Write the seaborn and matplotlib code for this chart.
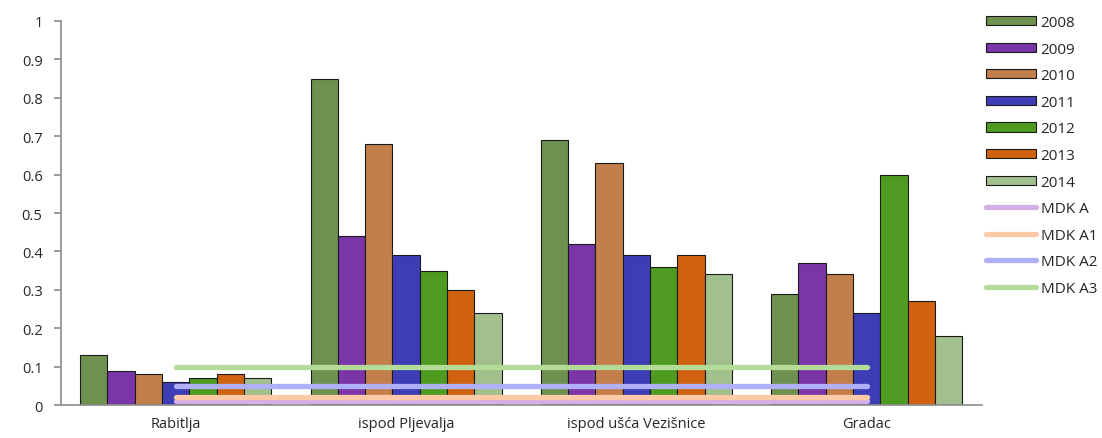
import numpy as np
import pandas as pd
import matplotlib
matplotlib.use("Agg")
import matplotlib.pyplot as plt
import seaborn as sns
from matplotlib.ticker import FixedLocator

# -------------------------------
# Data
# -------------------------------
sites = ["Rabitlja", "ispod Pljevalja", "ispod ušća Vezišnice", "Gradac"]
years = ["2008", "2009", "2010", "2011", "2012", "2013", "2014"]

v2008 = [0.13, 0.85, 0.69, 0.29]
v2009 = [0.09, 0.44, 0.42, 0.37]
v2010 = [0.08, 0.68, 0.63, 0.34]
v2011 = [0.06, 0.39, 0.39, 0.24]
v2012 = [0.07, 0.35, 0.36, 0.60]
v2013 = [0.08, 0.30, 0.39, 0.27]
v2014 = [0.07, 0.24, 0.34, 0.18]

mdk_names = ["MDK A", "MDK A1", "MDK A2", "MDK A3"]
mdk_values = [0.01, 0.02, 0.05, 0.10]

y_ticks = [0, 0.1, 0.2, 0.3, 0.4, 0.5, 0.6, 0.7, 0.8, 0.9, 1]
y_tick_labels = ["0", "0.1", "0.2", "0.3", "0.4", "0.5", "0.6", "0.7", "0.8", "0.9", "1"]

year_colors = ["#6f9150", "#7a35a6", "#c27f4c", "#3d3db5",
               "#4f9a20", "#d0620f", "#a2bf8e"]
mdk_colors = ["#d4aee6", "#fccaa6", "#b0b0f8", "#b2dc98"]

# -------------------------------
# Long-form tables
# -------------------------------
series = [v2008, v2009, v2010, v2011, v2012, v2013, v2014]
bars = pd.DataFrame({
    "site": np.tile(sites, len(years)),
    "year": np.repeat(years, len(sites)),
    "value": np.concatenate(series),
})

lines = pd.DataFrame({
    "pos": np.tile(np.arange(len(sites)), len(mdk_names)),
    "mdk": np.repeat(mdk_names, len(sites)),
    "value": np.repeat(mdk_values, len(sites)),
})

# -------------------------------
# Plot
# -------------------------------
sns.set_style("white")
plt.rcParams["font.family"] = ["Open Sans", "DejaVu Sans"]

fig = plt.figure(figsize=(11.02, 4.39), dpi=100)
ax = fig.add_axes([0.055, 0.075, 0.836, 0.875])

sns.barplot(data=bars, x="site", y="value", hue="year", order=sites,
            hue_order=years, palette=year_colors, width=0.83,
            edgecolor="#1a1a1a", linewidth=0.8, saturation=1,
            legend=False, ax=ax)

sns.lineplot(data=lines, x="pos", y="value", hue="mdk", hue_order=mdk_names,
             palette=mdk_colors, linewidth=3.8, legend=False, ax=ax,
             solid_capstyle="round")

ax.set_xlim(-0.5, len(sites) - 0.5)
ax.set_ylim(0, 1)
ax.set_yticks(y_ticks, y_tick_labels)
ax.set_xlabel("")
ax.set_ylabel("")

for side in ["top", "right"]:
    ax.spines[side].set_visible(False)
for side in ["left", "bottom"]:
    ax.spines[side].set_color("#8c8c8c")
    ax.spines[side].set_linewidth(1.2)

ax.xaxis.set_minor_locator(FixedLocator(np.arange(-0.5, len(sites), 1.0)))
ax.tick_params(axis="x", which="major", length=0, labelsize=10.5, pad=8)
ax.tick_params(axis="x", which="minor", length=5, color="#8c8c8c", width=1.2,
               direction="out")
ax.tick_params(axis="y", length=5, color="#8c8c8c", width=1.2,
               direction="out", labelsize=10.5, left=True, pad=8)

# -------------------------------
# Legend
# -------------------------------
handles = [plt.Rectangle((0, 0), 1, 1, facecolor=c, edgecolor="#1a1a1a",
                         linewidth=0.8) for c in year_colors]
handles += [plt.Line2D([0], [0], color=c, linewidth=3.8,
                       solid_capstyle="round") for c in mdk_colors]
labels = years + mdk_names
fig.legend(handles, labels, loc="upper left", bbox_to_anchor=(0.882, 0.995),
           frameon=False, fontsize=11, handlelength=3.3, handleheight=0.55,
           labelspacing=0.76, handletextpad=0.3)

fig.savefig("out.png", dpi=100)
